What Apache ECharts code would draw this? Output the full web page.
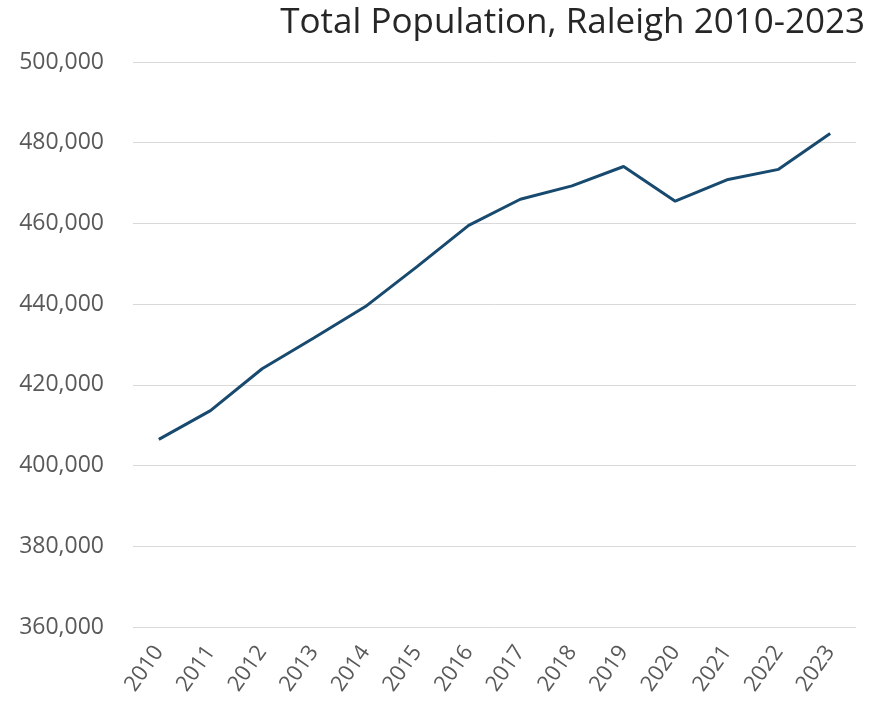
<!DOCTYPE html>
<html>
<head>
<meta charset="utf-8">
<script src="https://cdn.jsdelivr.net/npm/echarts@6/dist/echarts.min.js"></script>
<style>
  html, body { margin: 0; padding: 0; background: #fff; }
  #main { width: 874px; height: 705px; }
</style>
</head>
<body>
<div id="main"></div>
<script>
    var years = ['2010', '2011', '2012', '2013', '2014', '2015', '2016',
                 '2017', '2018', '2019', '2020', '2021', '2022', '2023'];
    var population = [406500, 413600, 424000, 431600, 439400, 449300, 459500,
                      466000, 469300, 474100, 465500, 470800, 473400, 482300];

    var myChart = echarts.init(document.getElementById('main'));

    var option = {
        backgroundColor: '#fff',
        title: {
            text: 'Total Population, Raleigh 2010-2023',
            right: 4,
            top: 1,
            textStyle: {
                fontFamily: 'Open Sans',
                fontWeight: 'normal',
                fontSize: 35,
                color: '#262626'
            }
        },
        grid: {
            left: 133,
            right: 18,
            top: 62,
            bottom: 78
        },
        xAxis: {
            type: 'category',
            data: years,
            axisLine: { show: false },
            axisTick: { show: false },
            axisLabel: {
                rotate: 55,
                margin: 21,
                fontFamily: 'Open Sans',
                fontSize: 22,
                color: '#595959'
            }
        },
        yAxis: {
            type: 'value',
            min: 360000,
            max: 500000,
            interval: 20000,
            axisLine: { show: false },
            axisTick: { show: false },
            splitLine: { lineStyle: { color: '#d9d9d9', width: 1 } },
            axisLabel: {
                margin: 29,
                fontFamily: 'Open Sans',
                fontSize: 23,
                color: '#595959',
                formatter: function (v) { return v.toLocaleString('en-US'); }
            }
        },
        series: [
            {
                name: 'Total Population',
                type: 'line',
                data: population,
                symbol: 'none',
                lineStyle: { color: '#174a6e', width: 3 },
                itemStyle: { color: '#174a6e' }
            }
        ]
    };

    myChart.setOption(option);
</script>
</body>
</html>
